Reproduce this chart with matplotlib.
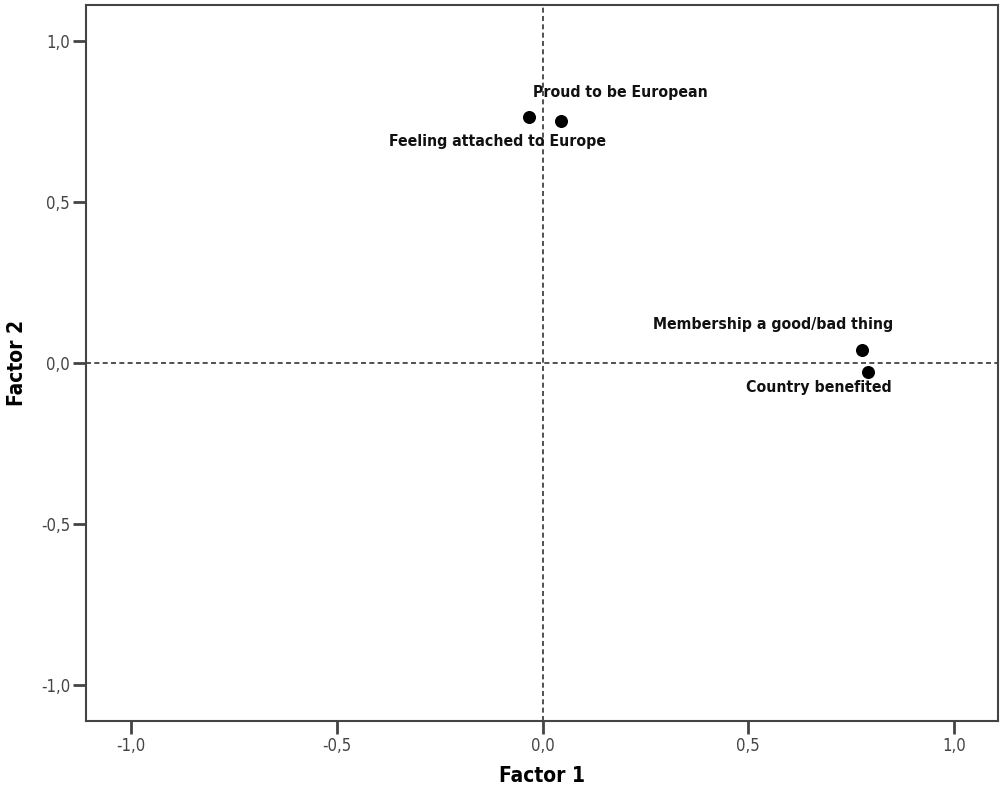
import matplotlib
matplotlib.use("Agg")
import matplotlib.pyplot as plt
from matplotlib.ticker import FuncFormatter

# factor loadings
labels = ["Feeling attached to Europe", "Proud to be European",
          "Membership a good/bad thing", "Country benefited"]
factor1 = [-0.033, 0.045, 0.777, 0.791]
factor2 = [0.765, 0.753, 0.039, -0.029]
offsets = [(-22.7, -18), (42.5, 20), (-64.3, 18.5), (-35.3, -11)]
ticks = [-1.0, -0.5, 0.0, 0.5, 1.0]

plt.rcParams['font.family'] = ['DejaVu Sans']
plt.rcParams['font.stretch'] = 'condensed'

fig = plt.figure(figsize=(10, 7.87), dpi=100)
ax = fig.add_axes([0.086, 0.0839, 0.912, 0.9097])

ax.axvline(0, color='#333333', linestyle=(0, (3, 2)), linewidth=1.2, zorder=1)
ax.axhline(0, color='#333333', linestyle=(0, (3, 2)), linewidth=1.2, zorder=1)

ax.scatter(factor1, factor2, s=70, color='black', zorder=3)
for x, y, lab, off in zip(factor1, factor2, labels, offsets):
    ax.annotate(lab, (x, y), xytext=off, textcoords='offset points',
                ha='center', va='center', fontsize=11.3, fontweight='bold',
                fontstretch='condensed', color='#111111')

ax.set_xlim(-1.11, 1.107)
ax.set_ylim(-1.112, 1.112)
ax.set_xticks(ticks)
ax.set_yticks(ticks)
fmt = FuncFormatter(lambda v, p: f"{v:.1f}".replace('.', ','))
ax.xaxis.set_major_formatter(fmt)
ax.yaxis.set_major_formatter(fmt)
ax.tick_params(direction='out', length=9.5, width=2, pad=2, color='#444444',
               labelcolor='#444444', labelsize=12)
for s in ax.spines.values():
    s.set_color('#444444')
    s.set_linewidth(1.5)

ax.set_xlabel("Factor 1", fontsize=15, fontweight='bold', labelpad=8)
ax.set_ylabel("Factor 2", fontsize=15, fontweight='bold', labelpad=10)

fig.savefig("out.png", dpi=100)
